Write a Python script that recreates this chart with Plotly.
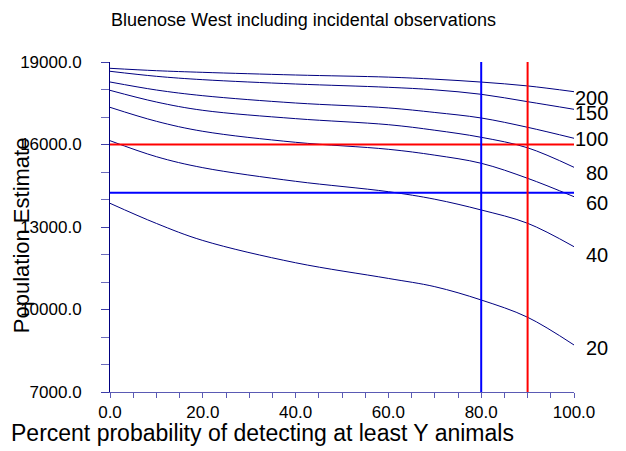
import plotly.graph_objects as go

# ---- data ----
x_pct = [0, 10, 20, 40, 60, 70, 80, 90, 100]
series_names = ["200", "150", "100", "80", "60", "40", "20"]
y_200 = [18771, 18684, 18624, 18527, 18450, 18375, 18270, 18130, 17920]
y_150 = [18662, 18480, 18357, 18200, 18080, 17987, 17826, 17557, 17280]
y_100 = [18273, 17982, 17775, 17509, 17330, 17165, 16964, 16625, 16226]
y_80 = [17970, 17545, 17243, 16940, 16720, 16519, 16262, 15880, 15171]
y_60 = [17352, 16844, 16480, 16080, 15826, 15612, 15317, 14771, 14102]
y_40 = [16138, 15557, 15157, 14662, 14284, 14010, 13619, 13135, 12284]
y_20 = [13862, 13130, 12510, 11700, 11130, 10830, 10346, 9717, 8710]
series_values = [y_200, y_150, y_100, y_80, y_60, y_40, y_20]

ref_hlines = [16000, 14250]      # red, blue
ref_vlines = [90, 80]            # red, blue
ref_colors = ["#ff0000", "#0000ff"]

y_range = [7000, 19000]
x_range = [0, 100]

# label pixel offsets (styling)
label_shift = [-6, -4, -1, -6, -6, -8, -3]

FONT = "Liberation Sans, Arial, sans-serif"
NAVY = "#000080"

fig = go.Figure()
for name, vals in zip(series_names, series_values):
    fig.add_trace(go.Scatter(x=x_pct, y=vals, mode="lines", name=name,
                             line=dict(color=NAVY, width=1, shape="spline", smoothing=1.0),
                             showlegend=False, hoverinfo="skip"))

for v, c in zip(ref_hlines, ref_colors):
    fig.add_shape(type="line", xref="x", yref="y", x0=x_range[0], x1=x_range[1], y0=v, y1=v,
                  line=dict(color=c, width=2), layer="above")
for v, c in zip(ref_vlines, ref_colors):
    fig.add_shape(type="line", xref="x", yref="y", x0=v, x1=v, y0=y_range[0], y1=y_range[1],
                  line=dict(color=c, width=2), layer="above")

annotations = []
for name, vals, sh in zip(series_names, series_values, label_shift):
    annotations.append(dict(x=x_range[1], y=vals[-1], xref="x", yref="y", text=name,
                            showarrow=False, xanchor="right", yanchor="middle",
                            xshift=36, yshift=sh,
                            font=dict(family=FONT, size=20, color="black")))

annotations.append(dict(x=0.418, y=1.127, xref="paper", yref="paper",
                        text="Bluenose West including incidental observations",
                        showarrow=False, xanchor="center", yanchor="middle",
                        font=dict(family=FONT, size=18, color="black")))
annotations.append(dict(x=0.328, y=-0.124, xref="paper", yref="paper",
                        text="Percent probability of detecting at least Y animals",
                        showarrow=False, xanchor="center", yanchor="middle",
                        font=dict(family=FONT, size=23, color="black")))
annotations.append(dict(x=-0.189, y=0.476, xref="paper", yref="paper",
                        text="Population Estimate", textangle=-90,
                        showarrow=False, xanchor="center", yanchor="middle",
                        font=dict(family=FONT, size=22, color="black")))

# page body adds an 8px offset, so the figure is 8px smaller than the window
fig.update_layout(
    width=618, height=443,
    margin=dict(l=100, r=52, t=54, b=59),
    paper_bgcolor="white", plot_bgcolor="white",
    annotations=annotations,
    xaxis=dict(range=x_range, showgrid=False, zeroline=False, showline=True,
               linecolor="#5a5ab4", linewidth=1, ticks="outside", ticklen=5, tickwidth=1,
               tickcolor="#5a5ab4", dtick=20, tick0=0, tickformat=".1f",
               tickfont=dict(family=FONT, size=17, color="black"),
               minor=dict(dtick=5, tick0=0, ticks="outside", ticklen=5, tickcolor="#5a5ab4",
                          showgrid=False)),
    yaxis=dict(range=y_range, showgrid=False, zeroline=False, showline=True,
               linecolor=NAVY, linewidth=1, ticks="outside", ticklen=8, tickwidth=1,
               tickcolor="#3c3ca8", dtick=3000, tick0=7000, tickformat=".1f",
               ticklabelstandoff=16,
               tickfont=dict(family=FONT, size=17, color="black"),
               minor=dict(dtick=1000, tick0=7000, ticks="outside", ticklen=8,
                          tickcolor="#6a6abc", showgrid=False)),
)

fig.write_html("out.html")
